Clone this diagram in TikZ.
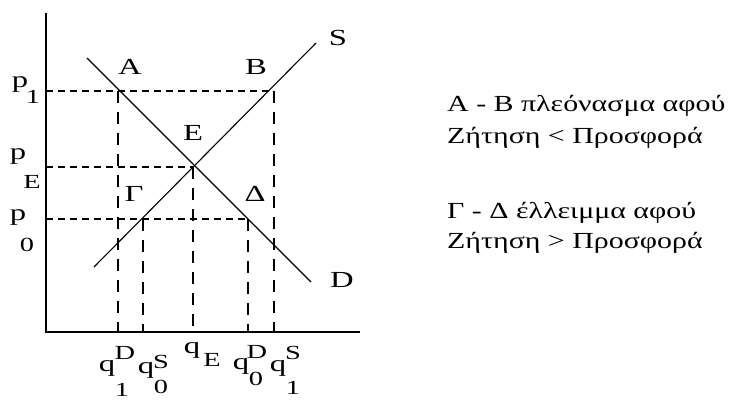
\documentclass[tikz,border=0pt]{standalone}
\usepackage{fontspec}
\setmainfont{Liberation Serif}
\usetikzlibrary{calc}
% the source picture prints its text stretched sideways
\newcommand{\stretchtxt}[1]{\scalebox{1.42}[1]{#1}}
\newcommand{\stretchnote}[1]{\scalebox{1.30}[1]{#1}}

\begin{document}
\begin{tikzpicture}[
  x=1pt, y=-1pt,
  axis/.style={line width=1.8pt},
  curve/.style={line width=1.1pt},
  hguide/.style={line width=1.6pt, dash pattern=on 7pt off 5pt},
  vguide/.style={line width=1.8pt, dash pattern=on 12pt off 9pt},
  lbl/.style={font=\fontsize{23}{27}\selectfont, inner sep=0pt},
  idx/.style={font=\fontsize{20}{24}\selectfont, inner sep=0pt},
  note/.style={font=\fontsize{23}{27}\selectfont, inner sep=0pt, anchor=base west}
]
  \useasboundingbox (0,0) rectangle (729,400);
  % axes
  \coordinate (O) at (46,332);
  \coordinate (ytop) at (46,13);
  \coordinate (xend) at (360,332);
  \draw[axis] (ytop) -- (O) -- (xend);
  % curves
  \coordinate (d0) at (87,58);
  \coordinate (d1) at (311,282);
  \coordinate (s0) at (94,267);
  \coordinate (s1) at (316,43);
  \draw[curve] (d0) -- (d1);
  \draw[curve] (s0) -- (s1);
  % points
  \coordinate (A) at (118,91);
  \coordinate (B) at (274,91);
  \coordinate (E) at (193,167);
  \coordinate (G) at (143,219);
  \coordinate (Dt) at (248,219);
  % guides
  \draw[hguide] (O |- A) -- (B);
  \draw[hguide] (O |- E) -- (E);
  \draw[hguide] (O |- G) -- (Dt);
  \draw[vguide] (A) -- (A |- O);
  \draw[vguide] (B) -- (B |- O);
  \draw[vguide] (E) -- (E |- O);
  \draw[vguide] (G) -- (G |- O);
  \draw[vguide] (Dt) -- (Dt |- O);
  % point labels
  \node[lbl] (lA) at (130,67) {\stretchtxt{A}};
  \node[lbl] (lB) at (256,67) {\stretchtxt{B}};
  \node[lbl] (lE) at (193,133) {\stretchtxt{E}};
  \node[lbl] (lG) at (134,194) {\stretchtxt{Γ}};
  \node[lbl] (lD) at (255,194) {\stretchtxt{Δ}};
  \node[lbl] (lS) at (338,38) {\stretchtxt{S}};
  \node[lbl] (lDem) at (342,280) {\stretchtxt{D}};
  % price labels
  \node[lbl] (p1) at (20,85) {\stretchtxt{p}};  \node[idx] (p1i) at (33,97) {\stretchtxt{1}};
  \node[lbl] (pE) at (18,157) {\stretchtxt{p}}; \node[idx] (pEi) at (32,182) {\stretchtxt{E}};
  \node[lbl] (p0) at (18,218) {\stretchtxt{p}}; \node[idx] (p0i) at (27,245) {\stretchtxt{0}};
  % quantity labels
  \node[lbl] (q1D) at (107,368) {\stretchtxt{q}}; \node[idx] at (125,353) {\stretchtxt{D}}; \node[idx] at (122,390) {\stretchtxt{1}};
  \node[lbl] (q0S) at (146,370) {\stretchtxt{q}}; \node[idx] at (161,362) {\stretchtxt{S}}; \node[idx] at (161,387) {\stretchtxt{0}};
  \node[lbl] (qE)  at (192,350) {\stretchtxt{q}}; \node[idx] at (212,360) {\stretchtxt{E}};
  \node[lbl] (q0D) at (241,366) {\stretchtxt{q}}; \node[idx] at (257,352) {\stretchtxt{D}}; \node[idx] at (256,379) {\stretchtxt{0}};
  \node[lbl] (q1S) at (278,368) {\stretchtxt{q}}; \node[idx] at (293,353) {\stretchtxt{S}}; \node[idx] at (293,388) {\stretchtxt{1}};
  % notes
  \node[note] (n1) at (447,111) {\stretchnote{A - B πλεόνασμα αφού}};
  \node[note] (n2) at (447,143) {\stretchnote{Ζήτηση < Προσφορά}};
  \node[note] (n3) at (447,218) {\stretchnote{Γ - Δ έλλειμμα αφού}};
  \node[note] (n4) at (447,248) {\stretchnote{Ζήτηση > Προσφορά}};
\end{tikzpicture}
\end{document}
